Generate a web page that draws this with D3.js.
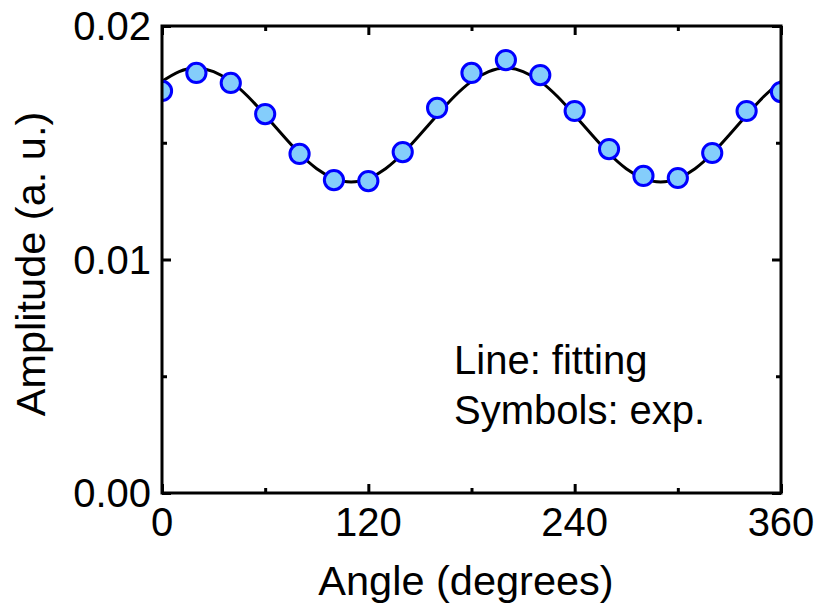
<!DOCTYPE html>
<html>
<head>
<meta charset="utf-8">
<script src="https://cdn.jsdelivr.net/npm/d3@7"></script>
<style>
  html, body { margin: 0; padding: 0; background: #fff; }
  svg text { font-family: "Liberation Sans", Arial, sans-serif; fill: #000; }
</style>
</head>
<body>
<svg id="chart" width="819" height="610"></svg>
<script>
// measured points (symbols)
const angles = [0, 20, 40, 60, 80, 100, 120, 140, 160, 180, 200, 220, 240, 260, 280, 300, 320, 340, 360]
const amplitudes = [0.01722, 0.01799, 0.01756, 0.01623, 0.01452, 0.01340, 0.01336, 0.01460, 0.01649, 0.01799,
  0.01854, 0.01790, 0.01636, 0.01473, 0.01358, 0.01349, 0.01456, 0.01636, 0.01717]

// fitted curve, every 10 degrees
const fitAngles = [0, 10, 20, 30, 40, 50, 60, 70, 80, 90, 100, 110, 120, 130, 140, 150, 160, 170, 180,
  190, 200, 210, 220, 230, 240, 250, 260, 270, 280, 290, 300, 310, 320, 330, 340, 350, 360]
const fitValues = [0.01763, 0.01805, 0.01820, 0.01805, 0.01763, 0.01698, 0.01618, 0.01534, 0.01454, 0.01389,
  0.01347, 0.01332, 0.01347, 0.01389, 0.01454, 0.01534, 0.01618, 0.01698, 0.01763,
  0.01805, 0.01820, 0.01805, 0.01763, 0.01698, 0.01618, 0.01534, 0.01454, 0.01389,
  0.01347, 0.01332, 0.01347, 0.01389, 0.01454, 0.01534, 0.01618, 0.01698, 0.01763]

const xTicks = [0, 120, 240, 360]
const xMinor = [60, 180, 300]
const yTicks = [0, 0.01, 0.02]
const yTickLabels = ['0.00', '0.01', '0.02']
const yMinor = [0.005, 0.015]
const notes = ['Line: fitting', 'Symbols: exp.']

//
// Layout
//
const margin = { left: 162, right: 38, top: 26, bottom: 117 }
const width = 819, height = 610
const svg = d3.select('#chart')

const x = d3.scaleLinear().domain([0, 360]).range([margin.left, width - margin.right])
const y = d3.scaleLinear().domain([0, 0.02]).range([height - margin.bottom, margin.top])

const FONT = 40
const MAJOR = 9, MINOR = 5

svg.append('clipPath').attr('id', 'plot-clip')
  .append('rect')
  .attr('x', x(0)).attr('y', y(0.02))
  .attr('width', x(360) - x(0)).attr('height', y(0) - y(0.02))

const plot = svg.append('g').attr('clip-path', 'url(#plot-clip)')

// fit line
const line = d3.line()
  .x((d, i) => x(fitAngles[i]))
  .y((d) => y(d))
  .curve(d3.curveNatural)

plot.append('path')
  .datum(fitValues)
  .attr('d', line)
  .attr('fill', 'none')
  .attr('stroke', '#000')
  .attr('stroke-width', 3)

// symbols
plot.selectAll('circle')
  .data(amplitudes)
  .join('circle')
  .attr('cx', (d, i) => x(angles[i]))
  .attr('cy', (d) => y(d))
  .attr('r', 9.6)
  .attr('fill', '#84cdfb')
  .attr('stroke', '#0000ff')
  .attr('stroke-width', 3)

//
// Axes (ticks inward on all four sides)
//
function axis(gen, tx, ty) {
  return svg.append('g')
    .attr('transform', `translate(${tx},${ty})`)
    .call(gen)
    .call((g) => g.select('.domain').remove())
    .call((g) => g.selectAll('line').attr('stroke', '#000').attr('stroke-width', 3))
    .call((g) => g.selectAll('text').remove())
}

const bottomY = y(0), topY = y(0.02), leftX = x(0), rightX = x(360)

axis(d3.axisBottom(x).tickValues(xTicks).tickSize(-MAJOR), 0, bottomY)
axis(d3.axisBottom(x).tickValues(xMinor).tickSize(-MINOR), 0, bottomY)
axis(d3.axisTop(x).tickValues(xTicks).tickSize(-MAJOR), 0, topY)
axis(d3.axisTop(x).tickValues(xMinor).tickSize(-MINOR), 0, topY)
axis(d3.axisLeft(y).tickValues(yTicks).tickSize(-MAJOR), leftX, 0)
axis(d3.axisLeft(y).tickValues(yMinor).tickSize(-MINOR), leftX, 0)
axis(d3.axisRight(y).tickValues(yTicks).tickSize(-MAJOR), rightX, 0)
axis(d3.axisRight(y).tickValues(yMinor).tickSize(-MINOR), rightX, 0)

// frame
svg.append('rect')
  .attr('x', leftX).attr('y', topY)
  .attr('width', rightX - leftX).attr('height', bottomY - topY)
  .attr('fill', 'none')
  .attr('stroke', '#000')
  .attr('stroke-width', 3)

// tick labels
svg.append('g').selectAll('text')
  .data(xTicks)
  .join('text')
  .attr('x', (d) => x(d))
  .attr('y', bottomY + 43)
  .attr('text-anchor', 'middle')
  .style('font-size', FONT + 'px')
  .text((d) => d)

svg.append('g').selectAll('text')
  .data(yTicks)
  .join('text')
  .attr('x', leftX - 11)
  .attr('y', (d) => y(d) + 14)
  .attr('text-anchor', 'end')
  .style('font-size', FONT + 'px')
  .text((d, i) => yTickLabels[i])

// axis titles
svg.append('text')
  .attr('x', 466)
  .attr('y', 595)
  .attr('text-anchor', 'middle')
  .style('font-size', '41.5px')
  .text('Angle (degrees)')

svg.append('text')
  .attr('transform', `translate(45,${264}) rotate(-90)`)
  .attr('text-anchor', 'middle')
  .style('font-size', '41.5px')
  .text('Amplitude (a. u.)')

// annotation
svg.append('g').selectAll('text')
  .data(notes)
  .join('text')
  .attr('x', 454)
  .attr('y', (d, i) => 374 + i * 50)
  .style('font-size', '40px')
  .text((d) => d)
</script>
</body>
</html>
